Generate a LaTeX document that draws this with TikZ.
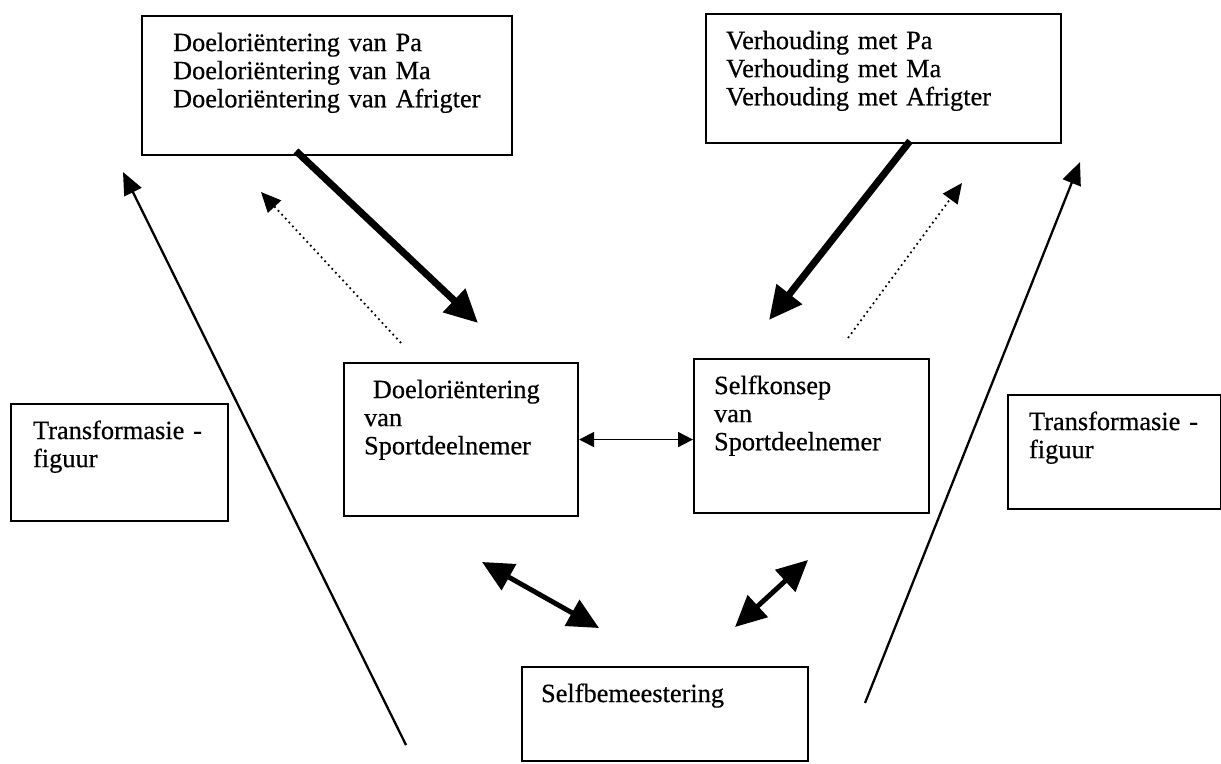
\documentclass[tikz,border=0pt]{standalone}
\usepackage{fontspec}
\setmainfont{Liberation Serif}
\newfontfamily{\tekstfont}{Liberation Serif}[FakeBold=0.5]
\usepackage{tikz}
\usetikzlibrary{arrows.meta}
\newcommand{\tekst}{\tekstfont\fontsize{15}{16}\selectfont}

\begin{document}
\begin{tikzpicture}

		\useasboundingbox (0,0) rectangle (24.42,15.26);
		\tikzset{kader/.style={draw, line width=1.2pt, anchor=north west, align=left, font=\tekst, inner ysep=0.34cm, text height=0.36cm}}
		\tikzset{dikpyl/.style={line width=4pt, -{Triangle[length=0.66cm, width=0.62cm]}}}
		\tikzset{stippelpyl/.style={line width=1pt, dotted, -{Triangle[length=0.4cm, width=0.36cm]}}}
		\tikzset{langpyl/.style={line width=1.3pt, -{Triangle[length=0.45cm, width=0.38cm]}}}
		\tikzset{tweepyl/.style={line width=2.8pt, {Triangle[length=0.62cm, width=0.58cm]}-{Triangle[length=0.62cm, width=0.58cm]}}}
		\tikzset{dunpyl/.style={line width=1pt, {Triangle[length=0.3cm, width=0.3cm]}-{Triangle[length=0.3cm, width=0.3cm]}}}

		\node[kader, inner xsep=0.62cm, text width=6.16cm, text depth=1.74cm] (ouers) at (2.82,14.96) {Doeloriëntering van Pa\\Doeloriëntering van Ma\\Doeloriëntering van Afrigter};
		\node[kader, inner xsep=0.40cm, text width=6.30cm, text depth=1.54cm] (verhouding) at (14.10,15.00) {Verhouding met Pa\\Verhouding met Ma\\Verhouding met Afrigter};
		\node[kader, inner xsep=0.40cm, text width=3.88cm, text depth=2.02cm] (doel) at (6.86,8.02) {\ Doeloriëntering\\van\\Sportdeelnemer};
		\node[kader, inner xsep=0.40cm, text width=3.90cm, text depth=2.04cm] (konsep) at (13.86,8.10) {Selfkonsep\\van\\Sportdeelnemer};
		\node[kader, inner xsep=0.44cm, text width=3.46cm, text depth=1.30cm] (translinks) at (0.20,7.20) {Transformasie -\\figuur};
		\node[kader, inner xsep=0.42cm, text width=3.42cm, text depth=1.24cm] (transregs) at (20.14,7.38) {Transformasie -\\figuur};
		\node[kader, inner xsep=0.38cm, text width=4.96cm, text depth=0.84cm] (bemeester) at (10.42,1.94) {Selfbemeestering};

		% vrye punte van die pyle
		\coordinate (a1) at (5.92,12.24);
		\coordinate (a2) at (9.56,8.80);
		\coordinate (b1) at (8.02,8.40);
		\coordinate (b2) at (5.22,11.42);
		\coordinate (c1) at (18.20,12.44);
		\coordinate (c2) at (15.38,8.86);
		\coordinate (d1) at (16.96,8.50);
		\coordinate (d2) at (19.24,11.60);
		\coordinate (e1) at (8.12,0.36);
		\coordinate (e2) at (2.46,11.82);
		\coordinate (f1) at (17.30,1.20);
		\coordinate (f2) at (21.60,12.02);
		\coordinate (g1) at (9.64,4.02);
		\coordinate (g2) at (11.98,2.70);
		\coordinate (h1) at (16.16,4.06);
		\coordinate (h2) at (14.70,2.72);

    \draw[dikpyl] (a1) -- (a2);
    \draw[stippelpyl] (b1) -- (b2);
    \draw[dikpyl] (c1) -- (c2);
    \draw[stippelpyl] (d1) -- (d2);
    \draw[langpyl] (e1) -- (e2);
    \draw[langpyl] (f1) -- (f2);
    \draw[tweepyl] (g1) -- (g2);
    \draw[tweepyl] (h1) -- (h2);
    \draw[dunpyl] (doel.east) -- (doel.east -| konsep.west);

		\end{tikzpicture}
\end{document}
